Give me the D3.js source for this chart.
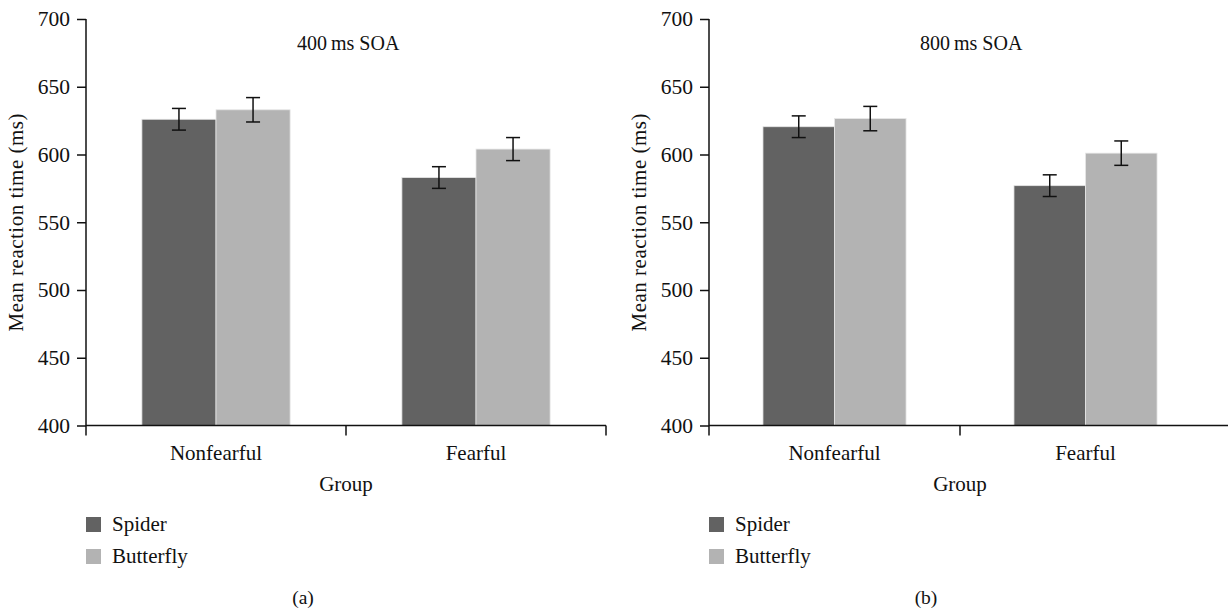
<!DOCTYPE html>
<html>
<head>
<meta charset="utf-8">
<script src="https://cdn.jsdelivr.net/npm/d3@7"></script>
<style>
  body { margin: 0; background: #fff; }
  svg text { font-family: "Liberation Serif", "DejaVu Serif", serif; fill: #111; }
</style>
</head>
<body>
<div id="chart"></div>
<script>
// data
var groups = ["Nonfearful", "Fearful"];
var stimuli = ["Spider", "Butterfly"];
var yTicks = [400, 450, 500, 550, 600, 650, 700];

// panel (a) 400 ms SOA
var spiderA = [626, 583];
var butterflyA = [633, 604];
var spiderErrA = [8, 8];
var butterflyErrA = [9, 8.5];

// panel (b) 800 ms SOA
var spiderB = [620.5, 577];
var butterflyB = [626.5, 601];
var spiderErrB = [8, 8];
var butterflyErrB = [9, 9];

var colors = { Spider: "#626262", Butterfly: "#b3b3b3" };

var svgWidth = 1228, svgHeight = 612;
var svg = d3.select("#chart").append("svg")
    .attr("width", svgWidth)
    .attr("height", svgHeight);

var panels = [
    { title: "400\u2009ms SOA", tag: "(a)", left: 86, right: 606, lineEnd: 606, endTick: true,
      spider: spiderA, butterfly: butterflyA, spiderErr: spiderErrA, butterflyErr: butterflyErrA },
    { title: "800\u2009ms SOA", tag: "(b)", left: 709, right: 1211, lineEnd: 1228, endTick: false,
      spider: spiderB, butterfly: butterflyB, spiderErr: spiderErrB, butterflyErr: butterflyErrB }
];

var plotTop = 19, plotBottom = 425.5;
var fontSize = 21;

panels.forEach(function(p) {
    var g = svg.append("g");

    var y = d3.scaleLinear().domain([400, 700]).range([plotBottom, plotTop]);
    var x = d3.scaleBand().domain(groups).range([p.left, p.right]).padding(0);
    var bw = x.bandwidth();
    var inner = d3.scaleBand().domain(stimuli)
        .range([bw * 0.215, bw * 0.785]).padding(0);

    var rows = groups.map(function(grp, i) {
        return [
            { group: grp, stim: "Spider", v: p.spider[i], e: p.spiderErr[i] },
            { group: grp, stim: "Butterfly", v: p.butterfly[i], e: p.butterflyErr[i] }
        ];
    }).flat();

    // bars
    g.selectAll("rect.bar")
        .data(rows)
        .enter()
        .append("rect")
        .attr("class", "bar")
        .attr("x", d => x(d.group) + inner(d.stim))
        .attr("y", d => y(d.v))
        .attr("width", inner.bandwidth())
        .attr("height", d => y(400) - y(d.v))
        .attr("fill", d => colors[d.stim])
        .attr("stroke", "#e6e6e6")
        .attr("stroke-width", 0.8);

    // error bars
    var errs = g.selectAll("g.err")
        .data(rows)
        .enter()
        .append("g")
        .attr("class", "err")
        .attr("transform", d => `translate(${x(d.group) + inner(d.stim) + inner.bandwidth() / 2},0)`);
    errs.append("line")
        .attr("y1", d => y(d.v + d.e)).attr("y2", d => y(d.v - d.e))
        .attr("stroke", "#111").attr("stroke-width", 1.5);
    errs.append("line")
        .attr("x1", -7).attr("x2", 7)
        .attr("y1", d => y(d.v + d.e)).attr("y2", d => y(d.v + d.e))
        .attr("stroke", "#111").attr("stroke-width", 1.5);
    errs.append("line")
        .attr("x1", -7).attr("x2", 7)
        .attr("y1", d => y(d.v - d.e)).attr("y2", d => y(d.v - d.e))
        .attr("stroke", "#111").attr("stroke-width", 1.5);

    // y axis
    var yAxis = g.append("g")
        .attr("transform", `translate(${p.left},0)`)
        .call(d3.axisLeft(y).tickValues(yTicks).tickSize(9).tickSizeOuter(0).tickPadding(7));
    yAxis.select(".domain").remove();
    yAxis.selectAll("line").attr("stroke", "#111").attr("stroke-width", 1.5);
    yAxis.selectAll("text").attr("font-size", 21.5).attr("font-family", "Liberation Serif").attr("fill", "#111");
    g.append("line")
        .attr("x1", p.left).attr("x2", p.left)
        .attr("y1", plotTop).attr("y2", plotBottom + 10)
        .attr("stroke", "#111").attr("stroke-width", 1.5);

    // x axis
    var xAxis = g.append("g")
        .attr("transform", `translate(0,${plotBottom})`)
        .call(d3.axisBottom(x).tickSize(0).tickPadding(20));
    xAxis.select(".domain").remove();
    xAxis.selectAll("text").attr("font-size", fontSize).attr("font-family", "Liberation Serif").attr("fill", "#111");
    g.append("line")
        .attr("x1", p.left).attr("x2", p.lineEnd)
        .attr("y1", plotBottom).attr("y2", plotBottom)
        .attr("stroke", "#111").attr("stroke-width", 1.5);
    var tickXs = [x("Fearful")];
    if (p.endTick) tickXs.push(p.right);
    g.selectAll("line.xtick")
        .data(tickXs)
        .enter()
        .append("line")
        .attr("class", "xtick")
        .attr("x1", d => d).attr("x2", d => d)
        .attr("y1", plotBottom).attr("y2", plotBottom + 10)
        .attr("stroke", "#111").attr("stroke-width", 1.5);

    // title
    g.append("text")
        .attr("x", p.left + 211)
        .attr("y", 50)
        .attr("font-size", 20)
        .text(p.title);

    // axis titles
    g.append("text")
        .attr("transform", `translate(${p.left - 63},${(plotTop + plotBottom) / 2}) rotate(-90)`)
        .attr("text-anchor", "middle")
        .attr("font-size", fontSize)
        .attr("letter-spacing", 0.5)
        .text("Mean reaction time (ms)");
    g.append("text")
        .attr("x", x("Fearful"))
        .attr("y", 491)
        .attr("text-anchor", "middle")
        .attr("font-size", fontSize)
        .text("Group");

    // legend
    var legend = g.selectAll("g.legend")
        .data(stimuli)
        .enter()
        .append("g")
        .attr("class", "legend")
        .attr("transform", (d, i) => `translate(${p.left},${517 + i * 32})`);
    legend.append("rect")
        .attr("width", 15).attr("height", 15)
        .attr("fill", d => colors[d]);
    legend.append("text")
        .attr("x", 26).attr("y", 14)
        .attr("font-size", fontSize)
        .text(d => d);

    // panel tag
    g.append("text")
        .attr("x", p.left + 217)
        .attr("y", 604)
        .attr("text-anchor", "middle")
        .attr("font-size", 19.5)
        .text(p.tag);
});
</script>
</body>
</html>
